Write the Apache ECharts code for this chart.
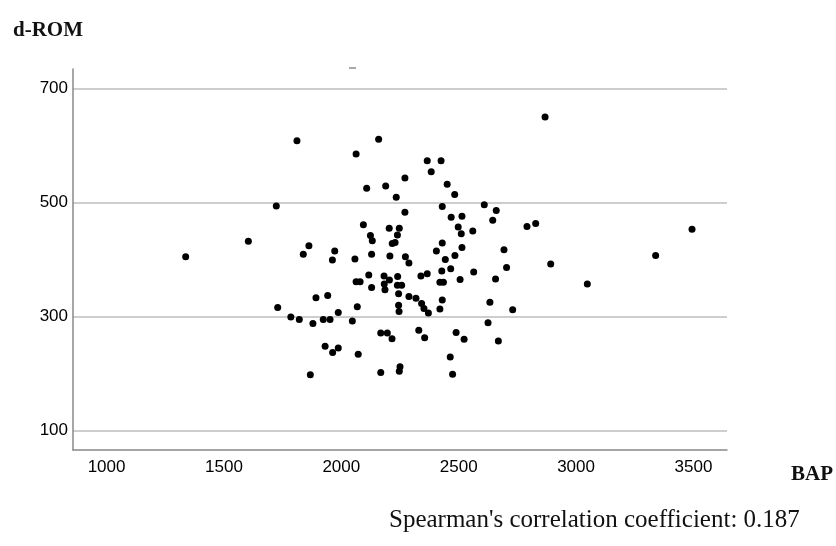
<!DOCTYPE html>
<html>
<head>
<meta charset="utf-8">
<script src="https://cdn.jsdelivr.net/npm/echarts@6/dist/echarts.min.js"></script>
<style>
  html, body { margin: 0; padding: 0; background: #fff; }
  #main { width: 836px; height: 546px; }
</style>
</head>
<body>
<div id="main"></div>
<script>
// BAP (x) and d-ROM (y) per subject
var bapValues = [
  1811, 2063, 1723, 1604, 1337, 1862, 1838, 1972, 1962, 2058,
  2159, 2366, 2425, 2383, 2271, 2108, 2189, 2451, 2483, 2234,
  2430, 2609, 2660, 2645, 2271, 2468, 2514, 2094, 2204, 2247,
  2239, 2124, 2132, 2498, 2511, 2560, 2791, 2828, 2229, 2217,
  2430, 2405, 2514, 2484, 2443, 2693, 2704, 2129, 2207, 2273,
  2288, 2117, 2182, 2240, 2339, 2366, 2428, 2466, 2564, 2657,
  2506, 2063, 2205, 2129, 2183, 2186, 2239, 2257, 2244, 2420,
  2435, 2288, 2318, 2342, 2352, 2371, 2244, 2246, 2068, 2430,
  2420, 2633, 2730, 2047, 2625, 2168, 2196, 2216, 2330, 2355,
  2489, 2523, 2669, 2072, 2464, 2168, 2250, 2247, 2474, 1942,
  1892, 1729, 1987, 1785, 1821, 1879, 1923, 1952, 1931, 1987,
  1963, 1868, 2868, 3494, 2892, 3339, 3048, 2080
];
var dromValues = [
  608, 585, 494, 432, 405, 424, 409, 415, 399, 401,
  611, 573, 573, 554, 543, 525, 529, 532, 514, 509,
  493, 496, 486, 469, 483, 474, 476, 461, 455, 455,
  443, 442, 433, 457, 445, 450, 458, 463, 430, 428,
  429, 415, 421, 407, 400, 417, 386, 409, 406, 405,
  394, 373, 371, 370, 371, 375, 380, 384, 378, 366,
  365, 361, 364, 351, 357, 347, 355, 355, 340, 360,
  360, 335, 332, 323, 314, 306, 320, 309, 317, 329,
  313, 325, 312, 292, 289, 271, 271, 261, 276, 263,
  272, 260, 257, 234, 229, 202, 212, 204, 199, 337,
  333, 316, 307, 299, 295, 288, 295, 295, 248, 245,
  237, 198, 650, 453, 392, 407, 357, 361
];
var xTicks = [1000, 1500, 2000, 2500, 3000, 3500];
var yTicks = [100, 300, 500, 700];

var points = bapValues.map(function (b, i) { return [b, dromValues[i]]; });

var chart = echarts.init(document.getElementById('main'));

var option = {
  backgroundColor: '#fff',
  animation: false,
  title: [
    {
      text: 'd-ROM', left: 8, top: 15,
      textStyle: { fontFamily: 'Liberation Serif', fontWeight: 'bold', fontSize: 21, color: '#111' }
    },
    {
      text: 'BAP', left: 786, top: 459,
      textStyle: { fontFamily: 'Liberation Serif', fontWeight: 'bold', fontSize: 21, color: '#111' }
    },
    {
      text: "Spearman's correlation coefficient: 0.187", left: 384, top: 503,
      textStyle: { fontFamily: 'Liberation Serif', fontWeight: 'normal', fontSize: 25, color: '#111' }
    }
  ],
  grid: { left: 73, right: 109, top: 69, bottom: 96 },
  xAxis: {
    type: 'value',
    min: 857,
    max: 3643,
    axisLine: { show: true, lineStyle: { color: '#888', width: 1.5 } },
    axisTick: { show: false, customValues: xTicks },
    axisLabel: {
      customValues: xTicks,
      formatter: function (v) { return String(v); },
      margin: 9,
      fontFamily: 'Liberation Sans',
      fontSize: 17,
      color: '#000'
    },
    splitLine: { show: false }
  },
  yAxis: {
    type: 'value',
    min: 66,
    max: 734,
    axisLine: { show: true, lineStyle: { color: '#888', width: 1.5 } },
    axisTick: { show: false, customValues: yTicks },
    axisLabel: {
      customValues: yTicks,
      formatter: function (v) { return String(v); },
      margin: 5,
      fontFamily: 'Liberation Sans',
      fontSize: 17,
      color: '#000'
    },
    splitLine: { show: true, lineStyle: { color: '#bdbdbd', width: 1.5 } }
  },
  graphic: [
    { type: 'rect', shape: { x: 349, y: 67, width: 7, height: 2 }, style: { fill: '#aaa' } }
  ],
  series: [
    {
      type: 'scatter',
      data: points,
      symbol: 'circle',
      symbolSize: 7,
      itemStyle: { color: '#000', opacity: 1 }
    }
  ]
};

chart.setOption(option);
</script>
</body>
</html>
